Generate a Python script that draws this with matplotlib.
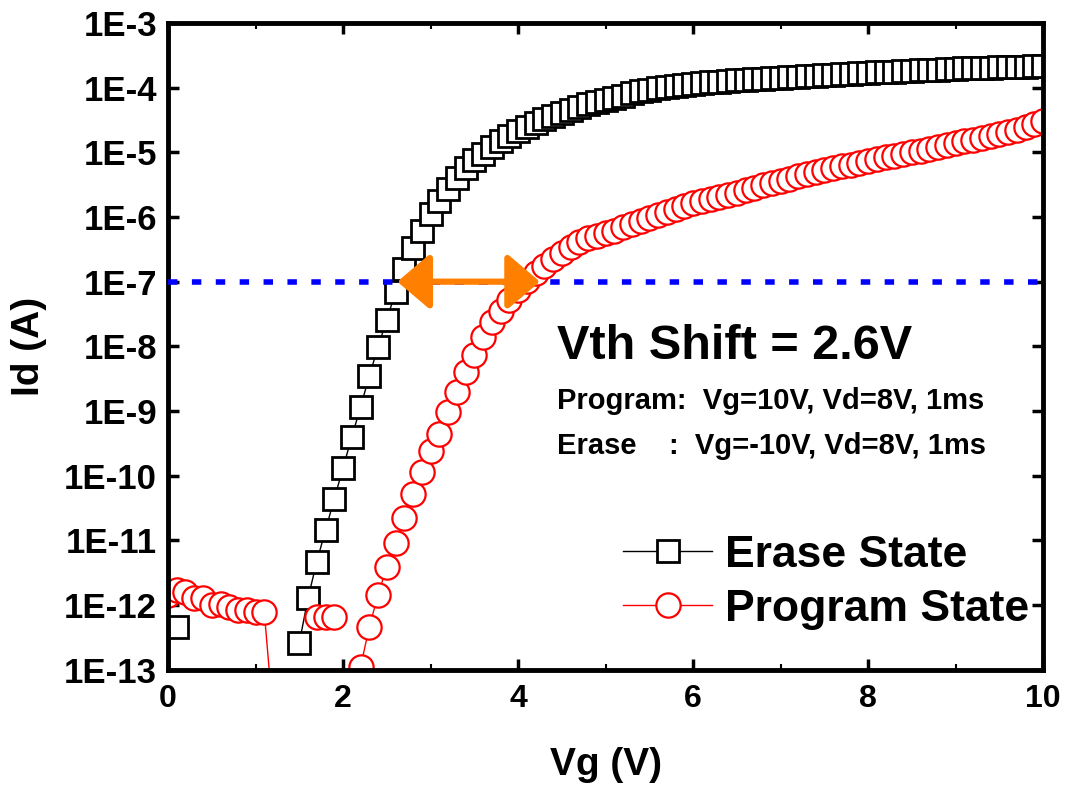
import numpy as np
import matplotlib.pyplot as plt
from matplotlib.ticker import FixedLocator, FuncFormatter, MultipleLocator

plt.rcParams['font.family'] = ['Liberation Sans', 'DejaVu Sans']
plt.rcParams['font.weight'] = 'bold'

nan = np.nan

# gate voltage sweep, 0.1 V steps
vg = np.linspace(0, 10, 101)

# drain current, erase state (A); nan = non-positive reading, not shown on log axis
erase_id = [
    nan, 4.6e-13, nan, nan, nan, nan, nan, nan, nan, nan,
    nan, nan, nan, nan, nan, 2.6e-13, 1.29e-12, 4.7e-12, 1.45e-11, 4.4e-11,
    1.32e-10, 4.0e-10, 1.15e-9, 3.5e-9, 9.8e-9, 2.6e-8, 6.9e-8, 1.56e-7, 3.30e-7, 6.10e-7,
    1.13e-6, 1.77e-6, 2.69e-6, 4.06e-6, 5.68e-6, 7.55e-6, 9.55e-6, 1.21e-5, 1.50e-5, 1.79e-5,
    2.14e-5, 2.47e-5, 2.88e-5, 3.25e-5, 3.66e-5, 4.11e-5, 4.52e-5, 5.04e-5, 5.53e-5, 6.01e-5,
    6.46e-5, 6.92e-5, 7.41e-5, 8.13e-5, 8.71e-5, 9.33e-5, 9.89e-5, 1.023e-4, 1.059e-4, 1.096e-4,
    1.130e-4, 1.164e-4, 1.199e-4, 1.236e-4, 1.271e-4, 1.300e-4, 1.327e-4, 1.355e-4, 1.380e-4, 1.403e-4,
    1.426e-4, 1.449e-4, 1.476e-4, 1.503e-4, 1.531e-4, 1.560e-4, 1.585e-4, 1.611e-4, 1.637e-4, 1.663e-4,
    1.690e-4, 1.714e-4, 1.738e-4, 1.766e-4, 1.791e-4, 1.816e-4, 1.837e-4, 1.862e-4, 1.888e-4, 1.914e-4,
    1.950e-4, 1.977e-4, 1.995e-4, 2.014e-4, 2.032e-4, 2.051e-4, 2.070e-4, 2.089e-4, 2.109e-4, 2.133e-4,
    2.163e-4,
]

# drain current, program state (A)
program_id = [
    1.45e-12, 1.74e-12, 1.62e-12, 1.29e-12, 1.29e-12, 1.00e-12, 1.05e-12, 9.3e-13, 8.5e-13, 8.5e-13,
    7.9e-13, 7.9e-13, 2.0e-14, nan, nan, nan, nan, 6.6e-13, 6.5e-13, 6.6e-13,
    nan, nan, 1.12e-13, 4.57e-13, 1.45e-12, 3.89e-12, 9.12e-12, 2.24e-11, 5.25e-11, 1.15e-10,
    2.40e-10, 4.47e-10, 9.77e-10, 2.00e-9, 4.07e-9, 7.41e-9, 1.41e-8, 2.34e-8, 3.55e-8, 5.25e-8,
    7.41e-8, 1.02e-7, 1.35e-7, 1.74e-7, 2.24e-7, 2.82e-7, 3.47e-7, 4.17e-7, 4.68e-7, 5.13e-7,
    5.62e-7, 6.17e-7, 6.92e-7, 7.76e-7, 8.71e-7, 9.77e-7, 1.07e-6, 1.20e-6, 1.35e-6, 1.48e-6,
    1.62e-6, 1.78e-6, 1.91e-6, 2.04e-6, 2.19e-6, 2.34e-6, 2.57e-6, 2.82e-6, 3.09e-6, 3.31e-6,
    3.63e-6, 3.89e-6, 4.27e-6, 4.57e-6, 4.90e-6, 5.25e-6, 5.62e-6, 6.03e-6, 6.46e-6, 6.92e-6,
    7.41e-6, 7.76e-6, 8.32e-6, 8.91e-6, 9.33e-6, 1.00e-5, 1.05e-5, 1.12e-5, 1.20e-5, 1.29e-5,
    1.38e-5, 1.48e-5, 1.55e-5, 1.66e-5, 1.78e-5, 1.91e-5, 2.04e-5, 2.24e-5, 2.45e-5, 2.69e-5,
    3.02e-5,
]

ref_current = 1e-7
arrow_left, arrow_right = 2.62, 4.25
y_decades = [1e-13, 1e-12, 1e-11, 1e-10, 1e-9, 1e-8, 1e-7, 1e-6, 1e-5, 1e-4, 1e-3]

fig = plt.figure(figsize=(10.7, 7.89), dpi=100)
ax = fig.add_axes([0.157, 0.151, 0.818, 0.820])

ax.plot(vg, erase_id, color='black', lw=1, marker='s', ms=15.5, mfc='white',
        mec='black', mew=2, label='Erase State')
ax.plot(vg, program_id, color='red', lw=1, marker='o', ms=17.5, mfc='white',
        mec='red', mew=1.6, label='Program State')

ax.axhline(ref_current, color='#0000FF', lw=4, dashes=(1.7, 2.6), zorder=5)
ax.annotate('', xy=(arrow_right, ref_current), xytext=(arrow_left, ref_current),
            arrowprops=dict(arrowstyle='<|-|>,head_length=2.0,head_width=1.7',
                            color='#FF8000', lw=4.5, shrinkA=0, shrinkB=0), zorder=6)

ax.set_yscale('log')
ax.set_xlim(0, 10)
ax.set_ylim(1e-13, 1e-3)
ax.xaxis.set_major_locator(MultipleLocator(2))
ax.xaxis.set_minor_locator(MultipleLocator(1))
ax.yaxis.set_major_locator(FixedLocator(y_decades))
ax.yaxis.set_minor_locator(FixedLocator([]))
ax.yaxis.set_major_formatter(FuncFormatter(lambda v, p: '1E%d' % round(np.log10(v))))
ax.tick_params(which='major', direction='in', length=8, width=2.5, top=True, right=True,
               labelsize=25, pad=8)
ax.tick_params(axis='x', which='major', labelsize=23, pad=10)
ax.tick_params(which='minor', direction='in', length=4, width=1.5, top=True, right=True)
for s in ax.spines.values():
    s.set_linewidth(3.5)

ax.set_xlabel('Vg (V)', fontsize=28, fontweight='bold', labelpad=24)
ax.set_ylabel('Id (A)', fontsize=28, fontweight='bold', labelpad=12)

ax.text(0.445, 0.500, 'Vth Shift = 2.6V', transform=ax.transAxes, fontsize=35,
        fontweight='bold', va='center')
ax.text(0.445, 0.415, 'Program:  Vg=10V, Vd=8V, 1ms', transform=ax.transAxes,
        fontsize=21, fontweight='bold', va='center')
ax.text(0.445, 0.346, 'Erase    :  Vg=-10V, Vd=8V, 1ms', transform=ax.transAxes,
        fontsize=21, fontweight='bold', va='center')

ax.legend(loc='lower right', bbox_to_anchor=(1.03, 0.0), frameon=False, fontsize=32,
          handlelength=2.0, handletextpad=0.3, labelspacing=0.3)

fig.savefig('out.png', dpi=100)
